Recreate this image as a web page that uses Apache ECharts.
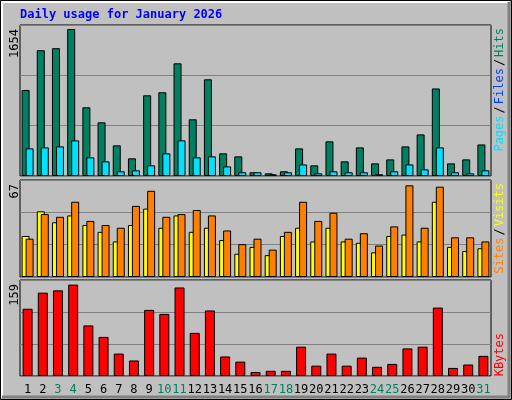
<!DOCTYPE html>
<html><head><meta charset="utf-8">
<script src="https://cdn.jsdelivr.net/npm/echarts@6/dist/echarts.min.js"></script>
<style>html,body{margin:0;padding:0;background:#c0c0c0}#c{width:512px;height:400px}</style>
</head><body><div id="c"></div>
<script>
const days = Array.from({length:31},(_,i)=>String(i+1));
const weekend = [3,4,10,11,17,18,24,25,31];
const hits = [968,1415,1438,1654,773,604,345,199,908,942,1268,638,1088,255,221,42,30,53,311,120,390,165,322,142,187,333,468,985,142,187,355];
const pages = [311,322,333,401,210,165,53,64,120,255,401,210,221,108,42,42,20,42,130,30,53,42,42,20,53,130,75,322,42,30,64];
const sites = [30,48,40,45,38,33,26,38,50,36,45,33,36,27,17,22,16,30,36,26,36,26,25,18,30,31,26,55,22,19,21];
const visits = [28,46,44,55,41,38,36,52,63,44,46,49,45,34,24,28,20,33,55,41,47,28,32,23,37,67,36,66,29,29,26];
const kbytes = [117,145,149,159,88,68,39,27,115,108,154,75,114,34,25,7,9,9,51,18,39,18,32,16,21,48,51,119,14,20,35];

const ch = echarts.init(document.getElementById('c'));
const mono = '"DejaVu Sans Mono", monospace';
const grids = [
 {left:20, top:25, width:471, height:151, show:true, borderColor:'#000', borderWidth:1},
 {left:20, top:180, width:471, height:97, show:true, borderColor:'#000', borderWidth:1},
 {left:20, top:280, width:471, height:96, show:true, borderColor:'#000', borderWidth:1}
];
const maxes = [1699, 70.9, 167];
const xAxes = [0,1,2].map(i=>({gridIndex:i, type:'category', data:days,
  axisLine:{show:false}, axisTick:{show:false},
  axisLabel:{show:i===2, interval:0, margin:8, fontFamily:mono, fontSize:12,
    color:(v)=>weekend.includes(+v)?'#008060':'#000'}}));
const yAxes = [0,1,2].map(i=>({gridIndex:i, type:'value', min:0, max:maxes[i], interval:maxes[i]/3,
  axisLabel:{show:false}, axisLine:{show:false}, axisTick:{show:false},
  splitLine:{show:true, lineStyle:{color:'#808080', width:1}}}));
const bs = c => ({color:c, borderColor:'#000', borderWidth:1});
const series = [
 {type:'bar', xAxisIndex:0, yAxisIndex:0, data:hits, barWidth:8, barGap:'-50%', itemStyle:bs('#008060'), animation:false},
 {type:'bar', xAxisIndex:0, yAxisIndex:0, data:pages, barWidth:8, barGap:'-50%', itemStyle:bs('#00e0ff'), animation:false},
 {type:'bar', xAxisIndex:1, yAxisIndex:1, data:sites, barWidth:8, barGap:'-50%', itemStyle:bs('#ffff00'), animation:false},
 {type:'bar', xAxisIndex:1, yAxisIndex:1, data:visits, barWidth:8, barGap:'-50%', itemStyle:bs('#ff8000'), animation:false},
 {type:'bar', xAxisIndex:2, yAxisIndex:2, data:kbytes, barWidth:10, itemStyle:bs('#ff0000'), animation:false}
];
const vt = (x,y,txt)=>({type:'text', x:x, y:y, rotation:Math.PI/2, style:{text:txt, font:'12px '+mono, fill:'#000', align:'right', verticalAlign:'middle'}});
ch.setOption({
 backgroundColor:'#c0c0c0', animation:false,
 grid:grids, xAxis:xAxes, yAxis:yAxes, series:series,
 graphic:[
  {type:'rect', shape:{x:0.5,y:0.5,width:511,height:399}, style:{fill:'none', stroke:'#000', lineWidth:1}, z:-1},
  {type:'polyline', shape:{points:[[2,397],[2,2],[509,2]]}, style:{stroke:'#fff', lineWidth:2, fill:'none'}},
  {type:'polyline', shape:{points:[[2,397],[509,397],[509,2]]}, style:{stroke:'#808080', lineWidth:3, fill:'none'}},
  {type:'text', x:20, y:9, style:{text:'Daily usage for January 2026', font:'bold 12px '+mono, fill:'#0000ff'}},
  vt(15,29,'1654'), vt(15,184,'67'), vt(15,284,'159'),
  {type:'text', x:500, y:28, rotation:Math.PI/2, style:{
    text:'{p|Pages}{k|/}{f|Files}{k|/}{h|Hits}', align:'right', verticalAlign:'middle', font:'12px '+mono,
    rich:{p:{fill:'#00e0ff', font:'12px '+mono},f:{fill:'#0040ff', font:'12px '+mono},h:{fill:'#008060', font:'12px '+mono},k:{fill:'#000', font:'12px '+mono, padding:[0,2]}}}},
  {type:'text', x:500, y:183, rotation:Math.PI/2, style:{
    text:'{s|Sites}{k|/}{v|Visits}', align:'right', verticalAlign:'middle', font:'12px '+mono,
    rich:{s:{fill:'#ff8000', font:'12px '+mono},v:{fill:'#ffff00', font:'12px '+mono},k:{fill:'#000', font:'12px '+mono, padding:[0,2]}}}},
  {type:'text', x:500, y:333, rotation:Math.PI/2, style:{text:'KBytes', font:'12px '+mono, fill:'#ff0000', align:'right', verticalAlign:'middle'}}
 ]
});
</script></body></html>
